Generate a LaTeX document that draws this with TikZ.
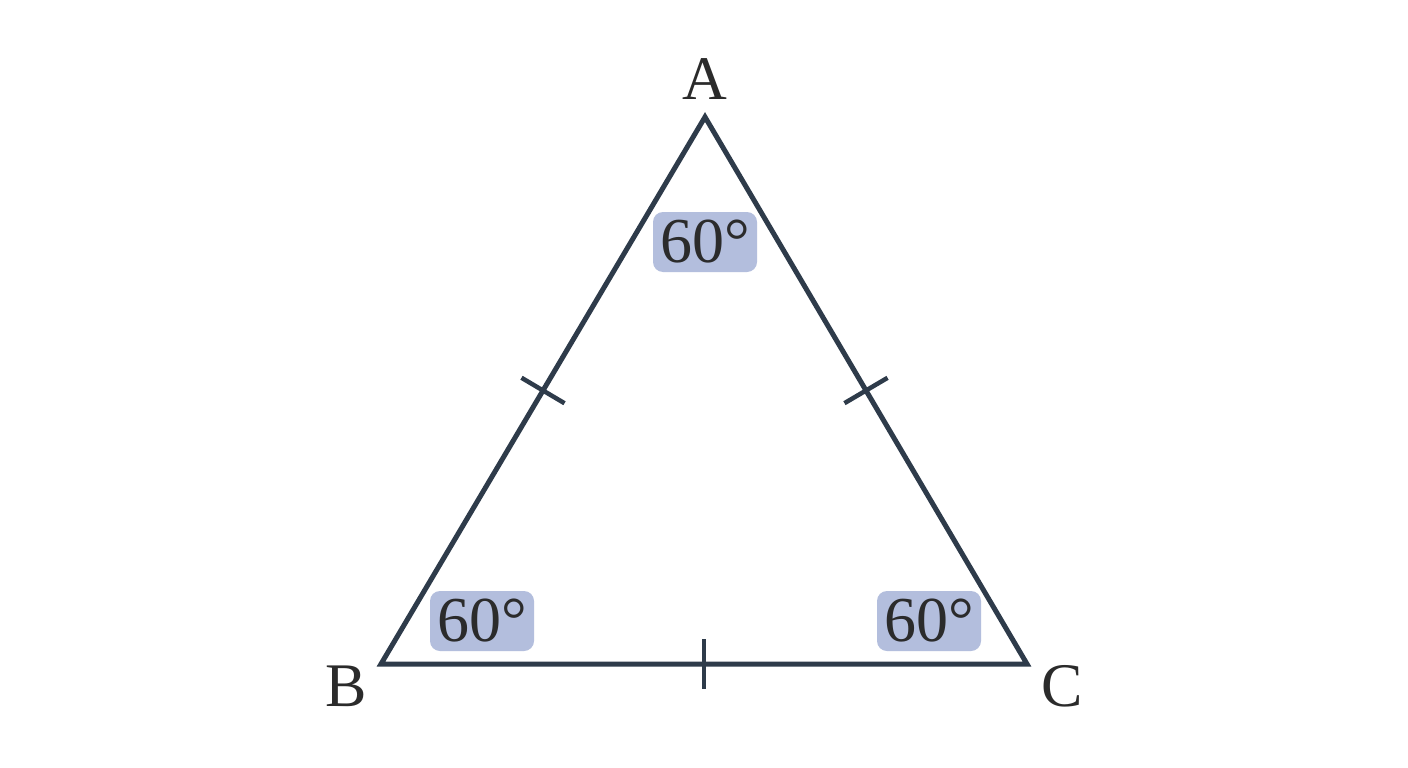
\documentclass[tikz,border=0pt]{standalone}
\usepackage{fontspec}
\setmainfont{Liberation Serif}
\usetikzlibrary{calc}
\definecolor{edge}{HTML}{2E3B4A}
\definecolor{boxfill}{HTML}{B3BEDD}
\definecolor{txt}{HTML}{2B2B2B}
\tikzset{
  x=1pt, y=-1pt,
  side/.style={draw=edge, line width=5pt, line join=miter},
  tick/.style={draw=edge, line width=4.5pt},
  vlabel/.style={text=txt, inner sep=0pt, font=\fontsize{62}{62}\selectfont},
  anglebox/.style={fill=boxfill, rounded corners=10pt, minimum width=104pt, minimum height=60pt, inner sep=0pt, text=txt, font=\fontsize{64}{64}\selectfont},
}
\begin{document}
\begin{tikzpicture}
\useasboundingbox[fill=white] (0,0) rectangle (1408,768);
\coordinate (A) at (705,117);
\coordinate (B) at (381,664);
\coordinate (C) at (1027,664);
\draw[side] (A) -- (B) -- (C) -- cycle;
\coordinate (mab) at ($(A)!0.5!(B)$);
\coordinate (mac) at ($(A)!0.5!(C)$);
\coordinate (mbc) at ($(B)!0.5!(C)$);
\draw[tick] ($(mab)!25pt!90:(A)$) -- ($(mab)!25pt!-90:(A)$);
\draw[tick] ($(mac)!25pt!90:(A)$) -- ($(mac)!25pt!-90:(A)$);
\draw[tick] ($(mbc)!25pt!90:(C)$) -- ($(mbc)!25pt!-90:(C)$);
\node[anglebox] (ga) at (705,242) {60°};
\node[anglebox] (gb) at (482,621) {60°};
\node[anglebox] (gc) at (929,621) {60°};
\node[vlabel] (la) at (705,79) {A};
\node[vlabel] (lb) at (346,686) {B};
\node[vlabel] (lc) at (1062,686) {C};
\end{tikzpicture}
\end{document}
